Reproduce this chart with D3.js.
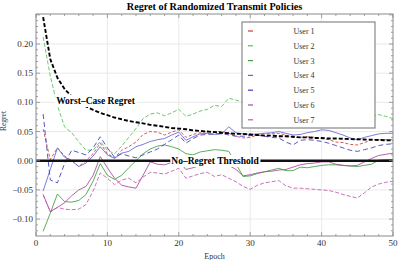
<!DOCTYPE html>
<html><head><meta charset="utf-8">
<script src="https://cdn.jsdelivr.net/npm/d3@7"></script>
<style>
html,body{margin:0;padding:0;background:#fff;}
svg{display:block;font-family:"Liberation Serif","Times New Roman",serif;}
</style></head>
<body><svg id="c" width="399" height="260"></svg>
<script>
const epochs = d3.range(1, 51);
const worstCase = [0.246,0.174,0.142,0.123,0.110,0.100,0.093,0.087,0.082,0.078,
 0.074,0.071,0.068,0.066,0.064,0.0615,0.060,0.058,0.056,0.055,
 0.054,0.052,0.051,0.050,0.049,0.048,0.047,0.046,0.046,0.045,
 0.044,0.043,0.043,0.042,0.042,0.041,0.040,0.040,0.039,0.039,
 0.038,0.038,0.0375,0.037,0.0367,0.0363,0.0359,0.0355,0.0351,0.0348];
const user1 = [0.054,0.002,0.022,0.008,0.000,-0.010,0.000,0.012,0.030,0.012,
 0.005,0.018,0.024,0.032,0.045,0.050,0.049,0.044,0.049,0.053,
 0.040,0.045,0.048,0.050,0.050,0.050,0.047,0.042,0.039,0.040,
 0.044,0.046,0.046,0.047,0.044,0.040,0.040,0.041,0.040,0.038,
 0.036,0.032,0.031,0.028,0.027,0.031,0.036,0.036,0.036,0.036];
const user2 = [0.212,0.145,0.095,0.058,0.048,0.032,0.018,0.018,0.033,0.018,
 0.012,0.025,0.040,0.055,0.072,0.080,0.082,0.077,0.082,0.088,
 0.076,0.080,0.085,0.088,0.095,0.093,0.107,0.104,0.100,0.098,
 0.096,0.095,0.094,0.092,0.090,0.089,0.088,0.087,0.086,0.085,
 0.084,0.083,0.082,0.081,0.080,0.078,0.076,0.079,0.076,0.072];
const user3 = [-0.121,-0.090,-0.057,-0.070,-0.071,-0.068,-0.058,-0.035,-0.005,-0.025,
 -0.032,-0.025,-0.012,0.000,0.012,0.020,0.025,0.027,0.024,0.020,
 0.012,0.010,0.015,0.017,0.019,0.018,0.016,-0.005,-0.027,-0.026,
 -0.022,-0.019,-0.016,-0.013,-0.017,-0.017,-0.011,-0.012,-0.010,-0.008,
 -0.007,-0.007,-0.008,-0.009,-0.010,-0.008,-0.006,0.001,0.002,0.002];
const user4 = [-0.052,-0.015,0.022,0.006,0.000,-0.010,-0.004,0.008,0.024,0.010,
 0.004,0.013,0.016,0.024,0.028,0.033,0.036,0.038,0.044,0.049,
 0.035,0.041,0.046,0.047,0.045,0.046,0.058,0.048,0.046,0.045,
 0.046,0.047,0.048,0.050,0.047,0.044,0.045,0.048,0.050,0.053,
 0.052,0.048,0.044,0.039,0.036,0.040,0.043,0.046,0.047,0.047];
const user5 = [0.080,-0.033,-0.038,-0.005,0.018,0.014,0.010,0.022,0.041,0.022,
 0.006,0.012,0.008,0.005,0.010,0.015,0.020,0.028,0.036,0.044,
 0.030,0.038,0.044,0.045,0.046,0.047,0.044,0.042,0.042,0.043,
 0.044,0.042,0.040,0.039,0.032,0.027,0.035,0.036,0.035,0.033,
 0.030,0.026,0.022,0.018,0.016,0.019,0.022,0.026,0.028,0.029];
const user6 = [-0.058,-0.087,-0.080,-0.072,-0.060,-0.050,-0.044,-0.025,0.007,-0.012,
 -0.030,-0.042,-0.045,-0.047,-0.025,-0.002,-0.006,-0.007,-0.003,-0.001,
 -0.015,-0.012,-0.008,-0.010,-0.009,-0.007,-0.008,-0.015,-0.026,-0.024,
 -0.021,-0.019,-0.018,-0.016,-0.015,-0.011,-0.007,-0.005,-0.004,-0.002,
 -0.002,-0.006,-0.008,-0.009,-0.008,-0.002,0.004,0.009,0.011,0.013];
const user7 = [-0.058,-0.088,-0.080,-0.083,-0.084,-0.083,-0.075,-0.052,-0.021,-0.030,
 -0.041,-0.033,-0.030,-0.038,-0.028,-0.020,-0.021,-0.023,-0.018,-0.013,
 -0.030,-0.026,-0.022,-0.020,-0.027,-0.024,-0.030,-0.036,-0.044,-0.049,
 -0.042,-0.038,-0.036,-0.034,-0.043,-0.047,-0.047,-0.048,-0.049,-0.050,
 -0.051,-0.054,-0.058,-0.061,-0.064,-0.055,-0.045,-0.040,-0.037,-0.035];
const userNames = ["User 1","User 2","User 3","User 4","User 5","User 6","User 7"];
const userValues = [user1,user2,user3,user4,user5,user6,user7];
const userColors = ["#d03a3a","#5cb85c","#3f9f3f","#6464d2","#3c3cb4","#a8489a","#c058b0"];
const userDash = ["3,2","4,2",null,null,"5,3",null,"4,2"];
const xTicks = [0,10,20,30,40,50];
const yTicks = [-0.10,-0.05,0.00,0.05,0.10,0.15,0.20];
const title = "Regret of Randomized Transmit Policies";

const svg = d3.select("#c");
const L = 36, R = 393, T = 14, B = 236;
const x = d3.scaleLinear().domain([0,50]).range([L,R]);
const y = d3.scaleLinear().domain([-0.129,0.2514]).range([B,T]);

// grid
const g = svg.append("g");
g.selectAll("line.gx").data(xTicks.slice(1,-1)).join("line")
 .attr("x1",d=>x(d)).attr("x2",d=>x(d)).attr("y1",T).attr("y2",B)
 .attr("stroke","#e4e4e4").attr("stroke-width",0.8);
g.selectAll("line.gy").data(yTicks.filter(d=>d!==0)).join("line")
 .attr("x1",L).attr("x2",R).attr("y1",d=>y(d)).attr("y2",d=>y(d))
 .attr("stroke","#e4e4e4").attr("stroke-width",0.8);

// clip
svg.append("clipPath").attr("id","clip").append("rect")
 .attr("x",L).attr("y",T).attr("width",R-L).attr("height",B-T);
const plot = svg.append("g").attr("clip-path","url(#clip)");

const line = d3.line().x((d,i)=>x(epochs[i])).y(d=>y(d));
userValues.forEach((vals,k)=>{
  plot.append("path").attr("d",line(vals)).attr("fill","none")
   .attr("stroke",userColors[k]).attr("stroke-width",1).attr("stroke-opacity",0.85)
   .attr("stroke-dasharray",userDash[k]);
});
plot.append("path").attr("d",line(worstCase)).attr("fill","none")
 .attr("stroke","#000").attr("stroke-width",1.9).attr("stroke-dasharray","4,2");
plot.append("line").attr("x1",x(0)).attr("x2",x(50)).attr("y1",y(0)).attr("y2",y(0))
 .attr("stroke","#111").attr("stroke-width",2.4);

// labels on curves
function boxLabel(txt,cx,cy){
  const t = svg.append("text").attr("x",cx).attr("y",cy).attr("text-anchor","middle")
   .attr("dominant-baseline","central").attr("font-size",9.5).attr("font-weight","bold")
   .attr("fill","#000").text(txt);
  const bb = t.node().getBBox();
  svg.insert("rect",()=>t.node()).attr("x",bb.x-1).attr("y",cy-6).attr("width",bb.width+2)
   .attr("height",12).attr("fill","#fff");
}
boxLabel("Worst\u2013Case Regret",95.5,101);
boxLabel("No\u2013Regret Threshold",215,161);

// frame
svg.append("rect").attr("x",L).attr("y",T).attr("width",R-L).attr("height",B-T)
 .attr("fill","none").attr("stroke","#8a8a8a").attr("stroke-width",1);

// ticks
const tk = svg.append("g").attr("stroke","#8a8a8a").attr("stroke-width",0.8);
const xMinor = d3.range(0,51,2);
const yMinor = d3.range(-12,26).map(d=>d/100);
xMinor.forEach(v=>{
  const major = v%10===0; const len = major?4:2;
  tk.append("line").attr("x1",x(v)).attr("x2",x(v)).attr("y1",B).attr("y2",B-len);
  tk.append("line").attr("x1",x(v)).attr("x2",x(v)).attr("y1",T).attr("y2",T+len);
});
yMinor.forEach(v=>{
  const major = Math.abs(Math.round(v*100))%5===0; const len = major?4:2;
  tk.append("line").attr("x1",L).attr("x2",L+len).attr("y1",y(v)).attr("y2",y(v));
  tk.append("line").attr("x1",R).attr("x2",R-len).attr("y1",y(v)).attr("y2",y(v));
});

// tick labels
svg.selectAll("text.xl").data(xTicks).join("text").attr("class","xl")
 .attr("x",d=>x(d)).attr("y",B+10).attr("text-anchor","middle")
 .attr("font-size",9).attr("fill","#333").text(d=>d);
const fmt = d=> (d<0?"\u2212":"")+Math.abs(d).toFixed(2);
svg.selectAll("text.yl").data(yTicks).join("text").attr("class","yl")
 .attr("x",L-3).attr("y",d=>y(d)+3).attr("text-anchor","end")
 .attr("font-size",9).attr("fill","#333").text(fmt);

// axis titles
svg.append("text").attr("x",x(25)).attr("y",258.5).attr("text-anchor","middle")
 .attr("font-size",8).attr("fill","#333").text("Epoch");
svg.append("text").attr("transform","translate(6,121) rotate(-90)")
 .attr("text-anchor","middle").attr("font-size",7.5).attr("fill","#333").text("Regret");
svg.append("text").attr("x",(L+R)/2).attr("y",10).attr("text-anchor","middle")
 .attr("font-size",10.2).attr("font-weight","bold").text(title);

// legend
const lg = svg.append("g");
lg.append("rect").attr("x",242).attr("y",22).attr("width",133).attr("height",106)
 .attr("fill","#fff").attr("stroke","#888").attr("stroke-width",1.2);
userNames.forEach((n,k)=>{
  const yy = 31 + k*14.8;
  lg.append("line").attr("x1",248).attr("x2",253).attr("y1",yy).attr("y2",yy)
   .attr("stroke",userColors[k]).attr("stroke-width",1.2);
  lg.append("text").attr("x",304).attr("y",yy+3).attr("text-anchor","middle")
   .attr("font-size",8).attr("fill","#333").text(n);
});
</script></body></html>
